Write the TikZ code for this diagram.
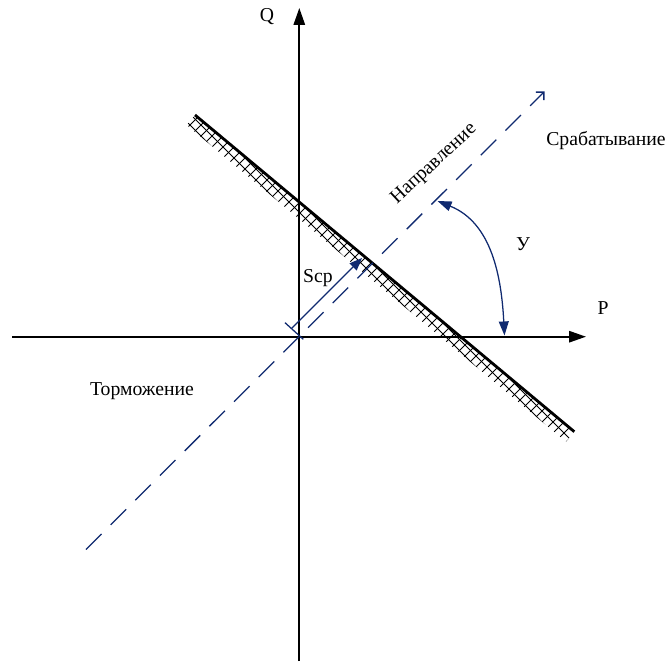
\documentclass[tikz,border=0pt]{standalone}
\usepackage{fontspec}
\setmainfont{Liberation Serif}
\usetikzlibrary{arrows.meta,calc}
\definecolor{dirblue}{RGB}{16,42,112}

\begin{document}
\begin{tikzpicture}[
    x=0.025cm, y=-0.025cm,
    font=\fontsize{14}{16}\selectfont,
    axis/.style={-{Triangle[length=12pt, width=8pt]}, line width=1.4pt},
    limit/.style={line width=2pt},
    hatch/.style={line width=0.55pt},
    dirline/.style={dirblue, line width=0.9pt, dash pattern=on 15.6pt off 9.2pt,
        -{Straight Barb[length=4pt, width=8pt]}},
    dimarrow/.style={dirblue, line width=0.9pt, -{Triangle[length=9pt, width=7pt]}},
    anglearrow/.style={dirblue, line width=0.9pt,
        {Triangle[length=10pt, width=7pt]}-{Triangle[length=10pt, width=7pt]}},
    lbl/.style={inner sep=1pt}
]
    \useasboundingbox (0,0) rectangle (670,662);

    % axes
    \coordinate (O) at (299.3,336.7);
    \coordinate (Pl) at (12,336.7);
    \coordinate (Pr) at (586,336.7);
    \coordinate (Qb) at (299.3,661);
    \coordinate (Qt) at (299.3,8);
    \draw[axis] (Pl) -- (Pr);
    \draw[axis] (Qb) -- (Qt);
    \node[lbl] (P) at (603,308) {P};
    \node[lbl] (Q) at (267,17) {Q};

    % limit line with hatching
    \coordinate (L1) at (195,115);
    \coordinate (L2) at (574.3,431.7);
    \begin{scope}
        \clip (L1) -- (L2) -- ++(-8.3,10) -- ($(L1)+(-8.3,10)$) -- cycle;
        \foreach \c in {-320,-309,...,520}
            \draw[hatch] (\c+80,80) -- (\c+480,480);
        \foreach \c in {260,271,...,1100}
            \draw[hatch] (\c-80,80) -- (\c-480,480);
    \end{scope}
    \draw[limit] (L1) -- (L2);

    % direction line
    \coordinate (D1) at (86,549.5);
    \coordinate (D2) at (544.5,91.5);
    \draw[dirline] (D1) -- (D2);
    \node[lbl, rotate=43] (dir) at (434,164) {Направление};

    % Scp
    \coordinate (T1) at (285,322.7);
    \coordinate (T2) at (303.3,339.3);
    \coordinate (S1) at (291.7,328.3);
    \coordinate (S2) at (362,258);
    \draw[dirblue, line width=0.9pt] (T1) -- (T2);
    \draw[dimarrow] (S1) -- (S2);
    \node[lbl] (scp) at (318,278) {Scp};

    % angle
    \coordinate (A1) at (437.5,201);
    \coordinate (A2) at (504.5,335.5);
    \draw[anglearrow] (A1) to[out=-22, in=93] (A2);
    \node[lbl] (phi) at (523,244) {У};

    % regions
    \node[lbl] (trip) at (606,141) {Срабатывание};
    \node[lbl] (block) at (142,391) {Торможение};
\end{tikzpicture}
\end{document}
